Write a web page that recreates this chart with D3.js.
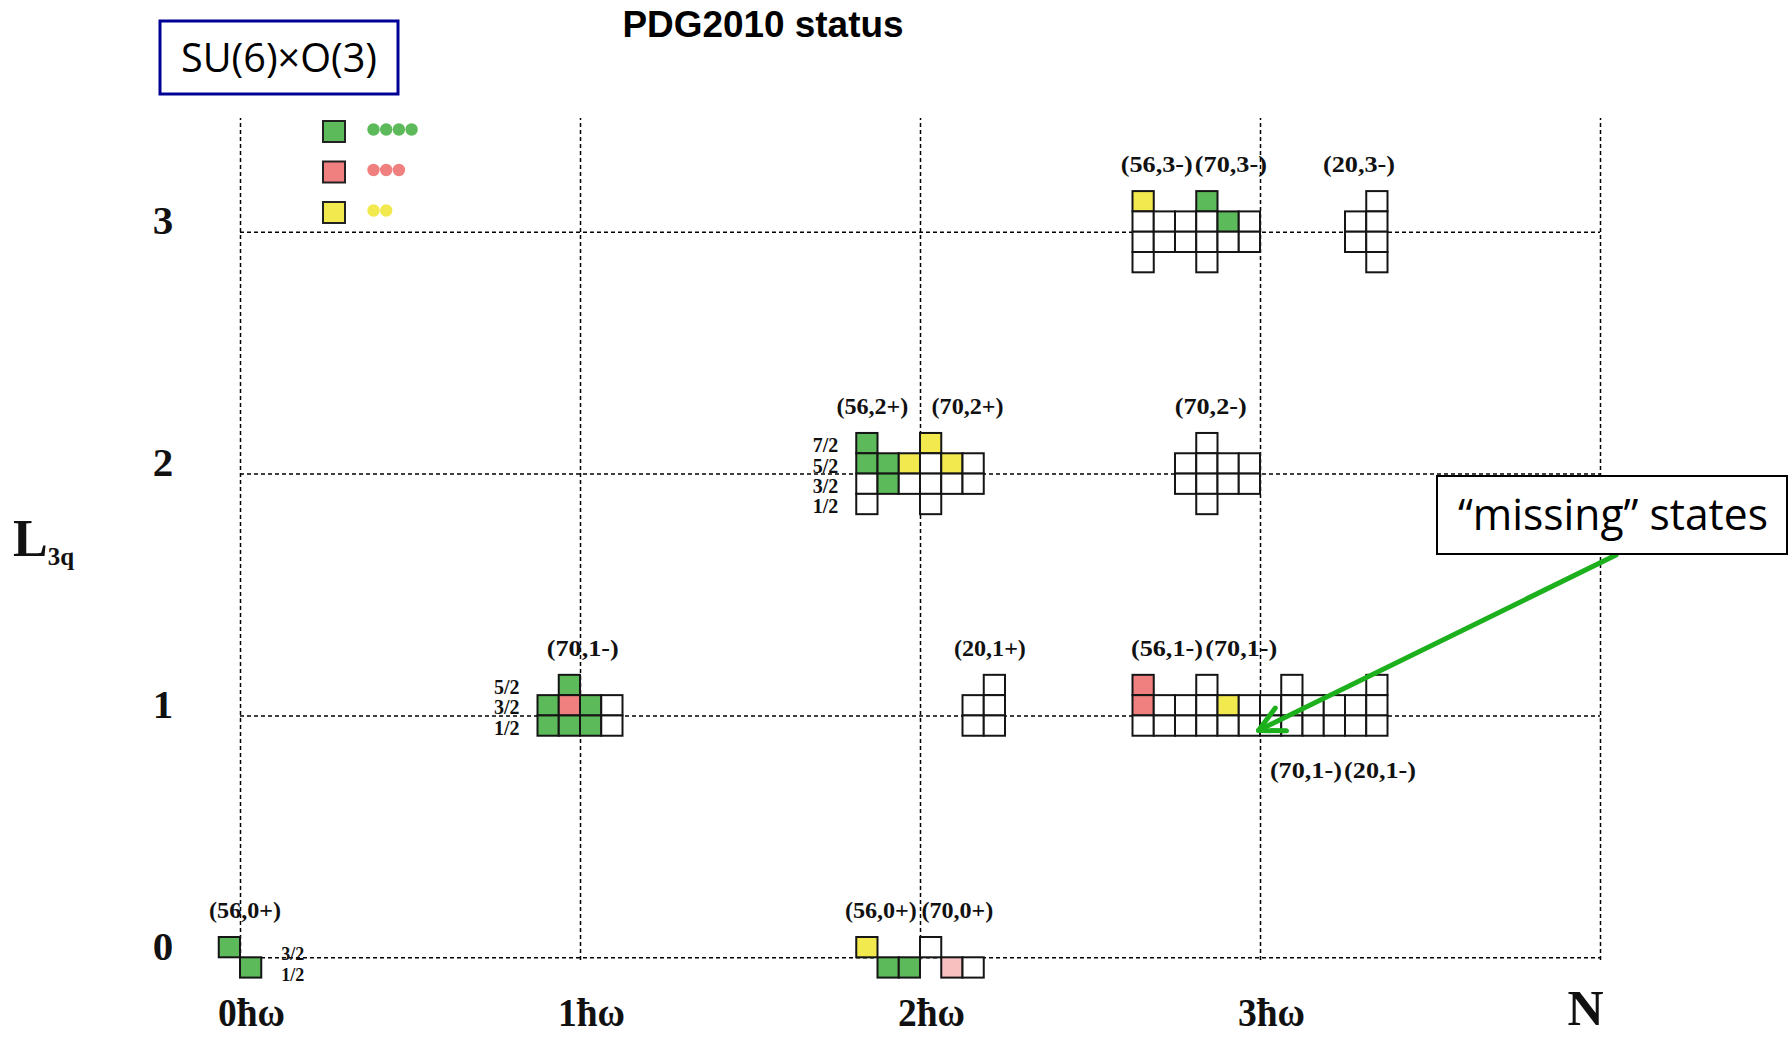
<!DOCTYPE html>
<html><head><meta charset="utf-8">
<script src="https://cdn.jsdelivr.net/npm/d3@7"></script>
<style>
html,body{margin:0;padding:0;background:#fff;}
svg{display:block;}
</style></head><body>
<svg id="chart" width="1789" height="1037"></svg>
<script>
// ---------------- data ----------------
const title = "PDG2010 status";
const modelLabel = "SU(6)×O(3)";
const noteLabel = "“missing” states";
const shellTicks = ["0ħω", "1ħω", "2ħω", "3ħω"];
const shellAxisLabel = "N";
const lTicks = ["0", "1", "2", "3"];
const lAxisLabel = "L";
const lAxisSub = "3q";
// 2J of the row that sits just above each L grid line
const lineJ2 = [3, 3, 5, 7];
// status: 4 = ****, 3 = ***, 2 = **, 1 = faint, 0 = missing
const legendStatus = [4, 3, 2];
const legendStars = [4, 3, 2];

// columns: [column index relative to the N line, [[2J, status], ...]]
const block_N0_L0 = [[-1, [[3, 4]]], [0, [[1, 4]]]];
const block_N1_L1 = [
  [-2, [[3, 4], [1, 4]]],
  [-1, [[5, 4], [3, 3], [1, 4]]],
  [0, [[3, 4], [1, 4]]],
  [1, [[3, 0], [1, 0]]]
];
const block_N2_L0 = [
  [-3, [[3, 2]]], [-2, [[1, 4]]], [-1, [[1, 4]]],
  [0, [[3, 0]]], [1, [[1, 1]]], [2, [[1, 0]]]
];
const block_N2_L1 = [[2, [[3, 0], [1, 0]]], [3, [[5, 0], [3, 0], [1, 0]]]];
const block_N2_L2 = [
  [-3, [[7, 4], [5, 4], [3, 0], [1, 0]]],
  [-2, [[5, 4], [3, 4]]],
  [-1, [[5, 2], [3, 0]]],
  [0, [[7, 2], [5, 0], [3, 0], [1, 0]]],
  [1, [[5, 2], [3, 0]]],
  [2, [[5, 0], [3, 0]]]
];
const block_N3_L1 = [
  [-6, [[5, 3], [3, 3], [1, 0]]],
  [-5, [[3, 0], [1, 0]]],
  [-4, [[3, 0], [1, 0]]],
  [-3, [[5, 0], [3, 0], [1, 0]]],
  [-2, [[3, 2], [1, 0]]],
  [-1, [[3, 0], [1, 0]]],
  [0, [[3, 0], [1, 0]]],
  [1, [[5, 0], [3, 0], [1, 0]]],
  [2, [[3, 0], [1, 0]]],
  [3, [[3, 0], [1, 0]]],
  [4, [[3, 0], [1, 0]]],
  [5, [[5, 0], [3, 0], [1, 0]]]
];
const block_N3_L2 = [
  [-4, [[5, 0], [3, 0]]],
  [-3, [[7, 0], [5, 0], [3, 0], [1, 0]]],
  [-2, [[5, 0], [3, 0]]],
  [-1, [[5, 0], [3, 0]]]
];
const block_N3_L3 = [
  [-6, [[9, 2], [7, 0], [5, 0], [3, 0]]],
  [-5, [[7, 0], [5, 0]]],
  [-4, [[7, 0], [5, 0]]],
  [-3, [[9, 4], [7, 0], [5, 0], [3, 0]]],
  [-2, [[7, 4], [5, 0]]],
  [-1, [[7, 0], [5, 0]]],
  [4, [[7, 0], [5, 0]]],
  [5, [[9, 0], [7, 0], [5, 0], [3, 0]]]
];
const blocks = [
  {N: 0, L: 0, cols: block_N0_L0},
  {N: 1, L: 1, cols: block_N1_L1},
  {N: 2, L: 0, cols: block_N2_L0},
  {N: 2, L: 1, cols: block_N2_L1},
  {N: 2, L: 2, cols: block_N2_L2},
  {N: 3, L: 1, cols: block_N3_L1},
  {N: 3, L: 2, cols: block_N3_L2},
  {N: 3, L: 3, cols: block_N3_L3}
];
// multiplet names: [text, N, L, centre (in cells from the N line), side]
const multiplets = [
  ["(56,0+)", 0, 0, 0.24, "above"],
  ["(70,1-)", 1, 1, 0.13, "above"],
  ["(56,0+)", 2, 0, -1.84, "above"],
  ["(70,0+)", 2, 0, 1.76, "above"],
  ["(20,1+)", 2, 1, 3.29, "above"],
  ["(56,2+)", 2, 2, -2.24, "above"],
  ["(70,2+)", 2, 2, 2.24, "above"],
  ["(56,1-)", 3, 1, -4.38, "above"],
  ["(70,1-)", 3, 1, -0.88, "above"],
  ["(70,1-)", 3, 1, 2.16, "below"],
  ["(20,1-)", 3, 1, 5.65, "below"],
  ["(70,2-)", 3, 2, -2.32, "above"],
  ["(56,3-)", 3, 3, -4.86, "above"],
  ["(70,3-)", 3, 3, -1.37, "above"],
  ["(20,3-)", 3, 3, 4.66, "above"]
];
// J row labels
const jLabelSets = [
  {N: 1, L: 1, side: "left", j2: [5, 3, 1]},
  {N: 2, L: 2, side: "left", j2: [7, 5, 3, 1]},
  {N: 0, L: 0, side: "right", j2: [3, 1]}
];

// ---------------- drawing ----------------
const statusColor = {4: "#5DBA5A", 3: "#F08080", 2: "#F2E94E", 1: "#F9C0C0", 0: "#FFFFFF"};
const serif = "'Liberation Serif','DejaVu Serif',serif";
const svg = d3.select("#chart");
svg.append("rect").attr("width", 1789).attr("height", 1037).attr("fill", "#fff");

const x = d3.scaleLinear().domain([0, 4]).range([240, 1600]);
const y = d3.scaleLinear().domain([0, 3]).range([957.3, 231.7]);
const CW = 21.25, CH = 20.3;
const gridTop = 118, gridBottom = 960;

// horizontal grid (L axis)
const gy = svg.append("g").attr("transform", `translate(${x(0)},0)`)
  .call(d3.axisLeft(y).tickValues(lTicks.map((d, i) => i))
    .tickSize(-(x(4) - x(0))).tickFormat(i => lTicks[i]));
gy.select(".domain").remove();
gy.selectAll(".tick line").attr("stroke", "#000").attr("stroke-width", 1.5).attr("stroke-dasharray", "4,3");
gy.selectAll(".tick text").attr("x", -77).attr("dy", null).attr("y", 2).attr("text-anchor", "middle")
  .attr("fill", "#111").style("font-family", serif).style("font-weight", "bold").style("font-size", "41px");

// vertical grid (N axis)
const gx = svg.append("g").attr("transform", `translate(0,${gridBottom})`)
  .call(d3.axisBottom(x).tickValues([0, 1, 2, 3, 4])
    .tickSize(-(gridBottom - gridTop)).tickFormat(i => i < shellTicks.length ? shellTicks[i] : shellAxisLabel));
gx.select(".domain").remove();
gx.selectAll(".tick line").attr("stroke", "#000").attr("stroke-width", 1.5).attr("stroke-dasharray", "4,3");
gx.selectAll(".tick text").attr("dy", null)
  .attr("y", i => i < shellTicks.length ? 66 : 65)
  .attr("x", i => i < shellTicks.length ? 11 : -15).attr("text-anchor", "middle").attr("fill", "#111")
  .style("font-family", serif).style("font-weight", "bold")
  .style("font-size", i => i < shellTicks.length ? "40px" : "50px")
  .each(function (i) {
    if (i < shellTicks.length) d3.select(this).attr("textLength", 67).attr("lengthAdjust", "spacingAndGlyphs");
  });

// L axis title
const lt = svg.append("text").attr("x", 13).attr("y", 556).attr("fill", "#111")
  .style("font-family", serif).style("font-weight", "bold");
lt.append("tspan").style("font-size", "52px").text(lAxisLabel);
lt.append("tspan").attr("dy", 9).style("font-size", "25px").text(lAxisSub);

// cells
const cells = [];
blocks.forEach(b => b.cols.forEach(([c, states]) =>
  states.forEach(([j2, s]) => cells.push({N: b.N, L: b.L, c, j2, s}))));
const rowTop = (L, j2) => y(L) - ((j2 - lineJ2[L]) / 2 + 1) * CH;
svg.append("g").selectAll("rect").data(cells).join("rect")
  .attr("x", d => x(d.N) + d.c * CW)
  .attr("y", d => rowTop(d.L, d.j2))
  .attr("width", CW).attr("height", CH)
  .attr("fill", d => statusColor[d.s])
  .attr("stroke", "#151515").attr("stroke-width", 2);

// multiplet labels
const shellCells = (N, L) => cells.filter(d => d.N === N && d.L === L);
svg.append("g").selectAll("text").data(multiplets).join("text")
  .attr("x", d => x(d[1]) + d[3] * CW)
  .attr("y", d => {
    const sc = shellCells(d[1], d[2]);
    return d[4] === "above" ? d3.min(sc, c => rowTop(c.L, c.j2)) - 19
                            : d3.max(sc, c => rowTop(c.L, c.j2)) + CH + 42;
  })
  .attr("text-anchor", "middle").attr("fill", "#111")
  .style("font-family", serif).style("font-weight", "bold").style("font-size", "24px")
  .attr("textLength", 72).attr("lengthAdjust", "spacingAndGlyphs")
  .text(d => d[0]);

// J row labels
const jl = [];
jLabelSets.forEach(s => {
  const sc = shellCells(s.N, s.L);
  const c0 = d3.min(sc, d => d.c), c1 = d3.max(sc, d => d.c) + 1;
  s.j2.forEach(j2 => jl.push({side: s.side, L: s.L, j2,
    xEdge: s.side === "left" ? x(s.N) + c0 * CW - 18 : x(s.N) + c1 * CW + 20}));
});
svg.append("g").selectAll("text").data(jl).join("text")
  .attr("x", d => d.xEdge)
  .attr("y", d => rowTop(d.L, d.j2) + CH + (d.side === "left" ? -1 : 3))
  .attr("text-anchor", d => d.side === "left" ? "end" : "start")
  .attr("fill", "#111").style("font-family", serif).style("font-weight", "bold")
  .style("font-size", d => d.side === "left" ? "20px" : "18px")
  .text(d => `${d.j2}/2`);

// legend
const lg = svg.append("g");
legendStatus.forEach((s, i) => {
  const yy = 121 + i * 40.5;
  lg.append("rect").attr("x", x(0) + 83).attr("y", yy).attr("width", 22).attr("height", 21)
    .attr("fill", statusColor[s]).attr("stroke", "#222").attr("stroke-width", 2);
  d3.range(legendStars[i]).forEach(k => {
    lg.append("circle").attr("cx", x(0) + 133.5 + k * 12.7).attr("cy", yy + 8.5).attr("r", 6.2)
      .attr("fill", statusColor[s]);
  });
});

// title
svg.append("text").attr("x", 763).attr("y", 37).attr("text-anchor", "middle").attr("fill", "#000")
  .style("font-family", "'Liberation Sans',Arial,sans-serif").style("font-weight", "bold").style("font-size", "36px")
  .attr("textLength", 281).attr("lengthAdjust", "spacingAndGlyphs").text(title);

// model box
svg.append("rect").attr("x", 160).attr("y", 21).attr("width", 238).attr("height", 73)
  .attr("fill", "#fff").attr("stroke", "#000096").attr("stroke-width", 3);
svg.append("text").attr("x", 279).attr("y", 72).attr("text-anchor", "middle").attr("fill", "#000")
  .style("font-family", "'Open Sans','Noto Sans',sans-serif").style("font-size", "40px")
  .attr("textLength", 196).attr("lengthAdjust", "spacingAndGlyphs").text(modelLabel);

// "missing" note with arrow
const tip = [x(3) - 1.5, y(1) + 15];
const start = [1616, 555];
const ang = Math.atan2(start[1] - tip[1], start[0] - tip[0]);
const barb = 28, spread = 27 * Math.PI / 180;
const arrow = svg.append("g").attr("stroke", "#1CB01C").attr("stroke-width", 5)
  .attr("stroke-linecap", "round").attr("fill", "none");
arrow.append("line").attr("x1", start[0]).attr("y1", start[1]).attr("x2", tip[0]).attr("y2", tip[1]);
arrow.append("path").attr("stroke-linejoin", "round")
  .attr("d", `M${tip[0] + barb * Math.cos(ang + spread)},${tip[1] + barb * Math.sin(ang + spread)}L${tip[0]},${tip[1]}L${tip[0] + barb * Math.cos(ang - spread)},${tip[1] + barb * Math.sin(ang - spread)}`);
svg.append("rect").attr("x", 1437).attr("y", 476).attr("width", 350).attr("height", 78)
  .attr("fill", "#fff").attr("stroke", "#000").attr("stroke-width", 2);
svg.append("text").attr("x", 1458).attr("y", 530).attr("fill", "#000")
  .style("font-family", "'Open Sans','Noto Sans',sans-serif").style("font-size", "44px")
  .attr("textLength", 310).attr("lengthAdjust", "spacingAndGlyphs").text(noteLabel);
</script>
</body></html>
